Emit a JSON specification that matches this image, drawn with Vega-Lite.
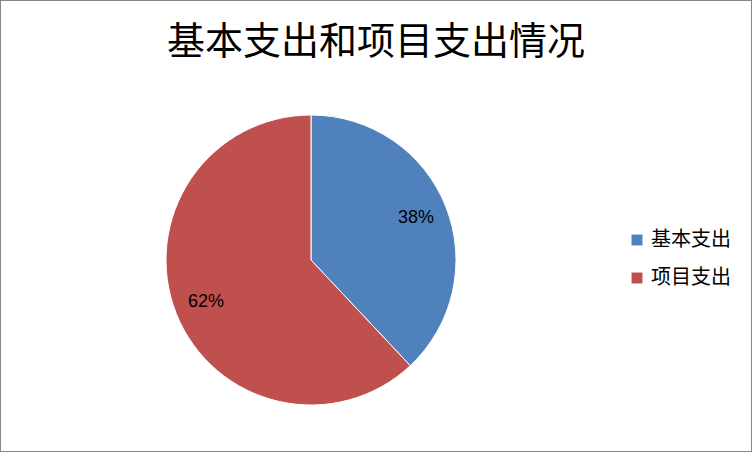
{
  "$schema": "https://vega.github.io/schema/vega-lite/v6.json",
  "width": 752,
  "height": 452,
  "autosize": "none",
  "padding": 0,
  "background": "white",
  "config": {
    "view": {"stroke": "#868686", "strokeWidth": 2},
    "font": "Noto Sans CJK SC"
  },
  "title": {
    "text": "基本支出和项目支出情况",
    "orient": "top",
    "anchor": "middle",
    "offset": -62,
    "fontSize": 38,
    "fontWeight": "normal",
    "color": "black",
    "font": "Noto Sans CJK SC"
  },
  "data": {
    "values": [
      {"item": "基本支出", "share": 38, "label": "38%"},
      {"item": "项目支出", "share": 62, "label": "62%"}
    ]
  },
  "encoding": {
    "theta": {"field": "share", "type": "quantitative", "stack": true},
    "order": {"field": "item"},
    "x": {"value": 311},
    "y": {"value": 260}
  },
  "layer": [
    {
      "mark": {"type": "arc", "outerRadius": 145, "stroke": "white", "strokeWidth": 1},
      "encoding": {
        "color": {
          "field": "item",
          "type": "nominal",
          "sort": ["基本支出", "项目支出"],
          "scale": {"range": ["#4F81BD", "#C0504D"]},
          "legend": {
            "title": null,
            "orient": "none",
            "legendX": 627,
            "legendY": 230,
            "symbolType": "square",
            "symbolSize": 120,
            "symbolStrokeWidth": 0,
            "labelFontSize": 20,
            "labelFont": "Noto Sans CJK SC",
            "labelColor": "black",
            "labelOffset": 4,
            "rowPadding": 18
          }
        }
      }
    },
    {
      "mark": {"type": "text", "radius": 113, "fontSize": 18, "color": "black", "font": "Liberation Sans"},
      "encoding": {"text": {"field": "label"}}
    }
  ]
}
